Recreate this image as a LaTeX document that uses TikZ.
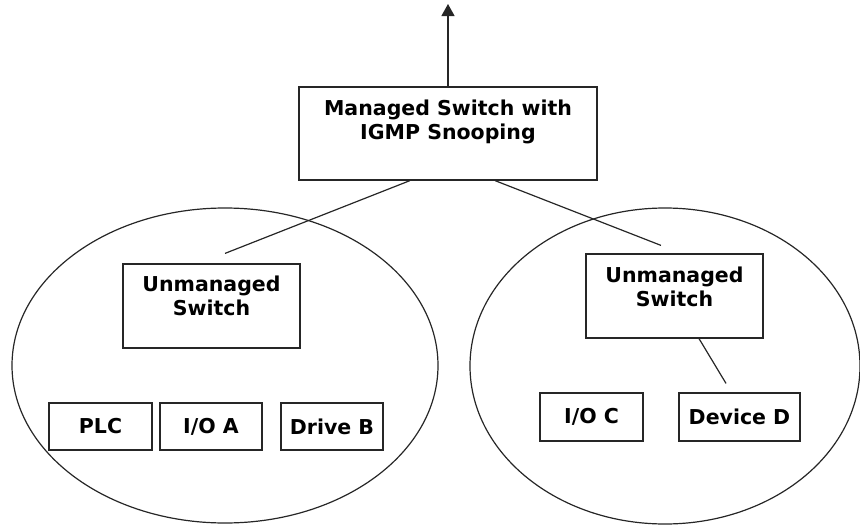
\documentclass[tikz,border=0pt]{standalone}
\usepackage{fontspec}
\setmainfont{DejaVu Sans}
\usetikzlibrary{arrows.meta,shapes.geometric}
\begin{document}
\begin{tikzpicture}[x=1pt,y=-1pt,
  box/.style={draw=black!85, line width=1.2pt, rectangle, inner sep=0pt},
  seg/.style={draw=black!85, line width=1.2pt, ellipse, inner sep=0pt},
  txt/.style={font=\fontsize{20.5}{24}\selectfont\bfseries, align=center, inner sep=0pt},
  wire/.style={draw=black!85, line width=1.2pt}]
\useasboundingbox (0,0) rectangle (860,525);

% network segments
\node[seg, minimum width=426pt, minimum height=315pt] (segl) at (225,365.5) {};
\node[seg, minimum width=390pt, minimum height=316pt] (segr) at (665,366) {};

% managed switch
\node[box, minimum width=298pt, minimum height=93pt] (ms) at (448,133.5) {};
\node[txt] (mst) at ([yshift=-36pt]ms.north) {Managed Switch with\\IGMP Snooping};
\coordinate (uplink) at (448,4);
\draw[wire, -{Triangle[length=12pt,width=13pt]}] (ms.north) -- (uplink);

% unmanaged switches
\node[box, minimum width=177pt, minimum height=84pt] (usl) at (211.5,306) {};
\node[txt] (uslt) at ([yshift=-32pt]usl.north) {Unmanaged\\Switch};
\node[box, minimum width=177pt, minimum height=84pt] (usr) at (674.5,296) {};
\node[txt] (usrt) at ([yshift=-33.5pt]usr.north) {Unmanaged\\Switch};

% end devices
\node[box, txt, minimum width=103pt, minimum height=47pt] (plc) at (100.5,426.5) {PLC};
\node[box, txt, minimum width=102pt, minimum height=47pt] (ioa) at (211,426.5) {I/O A};
\node[box, txt, minimum width=102pt, minimum height=47pt] (drb) at (332,426.5) {Drive B};
\node[box, txt, minimum width=103pt, minimum height=48pt] (ioc) at (591.5,417) {I/O C};
\node[box, txt, minimum width=121pt, minimum height=48pt] (devd) at (739.5,417) {Device D};

% links
\draw[wire] ([xshift=-38pt]ms.south) -- ([xshift=13.5pt,yshift=10pt]usl.north);
\draw[wire] ([xshift=47pt]ms.south) -- ([xshift=-13.5pt,yshift=8pt]usr.north);
\draw[wire] ([xshift=24.5pt]usr.south) -- ([xshift=-13.5pt,yshift=9pt]devd.north);
\end{tikzpicture}
\end{document}
